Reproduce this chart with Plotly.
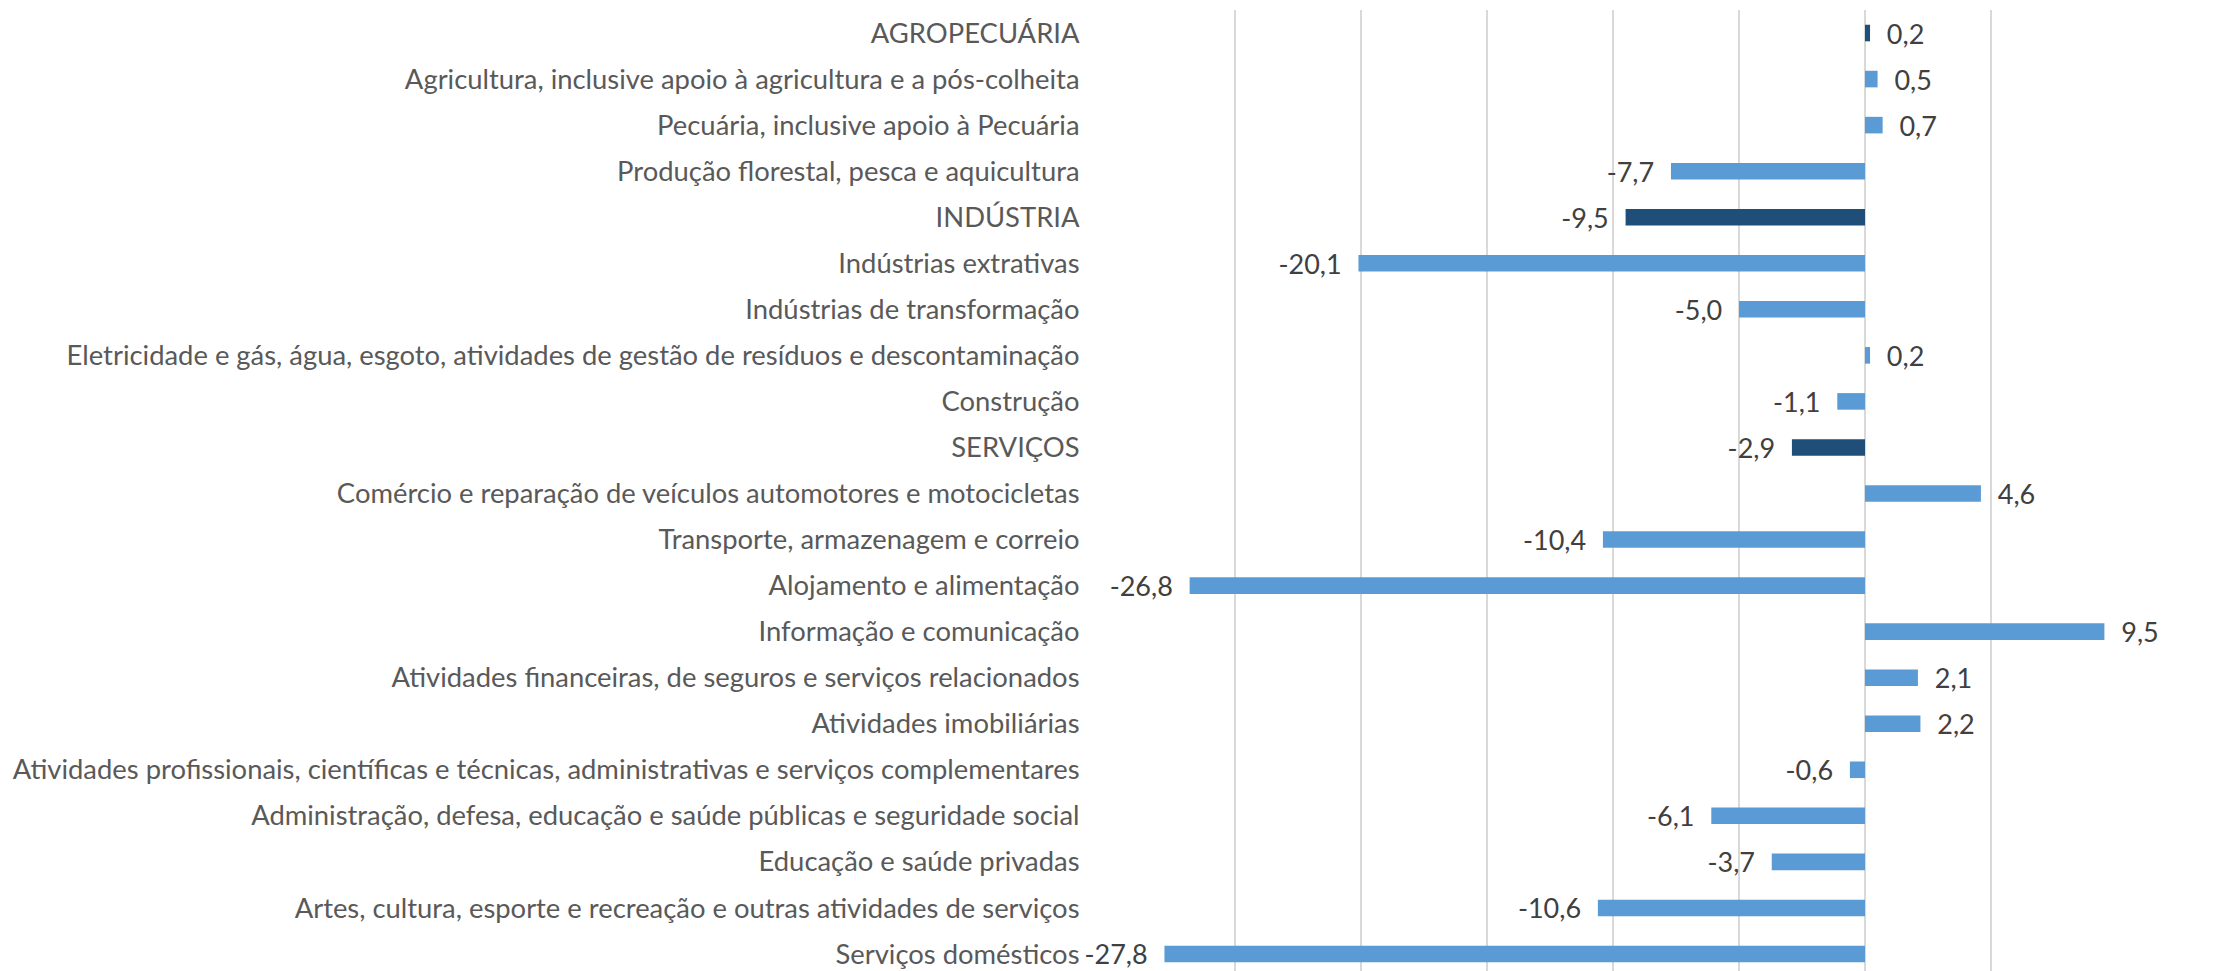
import plotly.graph_objects as go

categories = [
    "AGROPECUÁRIA",
    "Agricultura, inclusive apoio à agricultura e a pós-colheita",
    "Pecuária, inclusive apoio à Pecuária",
    "Produção florestal, pesca e aquicultura",
    "INDÚSTRIA",
    "Indústrias extrativas",
    "Indústrias de transformação",
    "Eletricidade e gás, água, esgoto, atividades de gestão de resíduos e descontaminação",
    "Construção",
    "SERVIÇOS",
    "Comércio e reparação de veículos automotores e motocicletas",
    "Transporte, armazenagem e correio",
    "Alojamento e alimentação",
    "Informação e comunicação",
    "Atividades financeiras, de seguros e serviços relacionados",
    "Atividades imobiliárias",
    "Atividades profissionais, científicas e técnicas, administrativas e serviços complementares",
    "Administração, defesa, educação e saúde públicas e seguridade social",
    "Educação e saúde privadas",
    "Artes, cultura, esporte e recreação e outras atividades de serviços",
    "Serviços domésticos",
]
values = [0.2, 0.5, 0.7, -7.7, -9.5, -20.1, -5.0, 0.2, -1.1, -2.9, 4.6,
          -10.4, -26.8, 9.5, 2.1, 2.2, -0.6, -6.1, -3.7, -10.6, -27.8]
sectors = {"AGROPECUÁRIA", "INDÚSTRIA", "SERVIÇOS"}

light, dark = "#5B9BD5", "#1F4E79"
colors = [dark if c in sectors else light for c in categories]

# Excel-style labels: comma decimal, a bit of padding from the bar end
pad = "\u00a0\u00a0"
labels = []
for v in values:
    s = f"{v:.1f}".replace(".", ",")
    labels.append(s + pad if v < 0 else pad + s)

fig = go.Figure(go.Bar(
    x=values, y=categories, orientation="h",
    marker=dict(color=colors, line=dict(width=0)),
    text=labels, textposition="outside", cliponaxis=False,
    constraintext="none",
    textfont=dict(family="Lato", size=27, color="#404040"),
))

# page body has an 8px margin, so the figure is 8px smaller
fig.update_layout(
    width=2224, height=963,
    margin=dict(l=1101, r=115, t=2, b=0),
    plot_bgcolor="white", paper_bgcolor="white",
    bargap=0.64, showlegend=False,
    font=dict(family="Lato", size=27.4, color="#595959"),
    xaxis=dict(range=[-30, 10], dtick=5, showticklabels=False,
               showgrid=True, gridcolor="#D9D9D9", gridwidth=1.5,
               zeroline=True, zerolinecolor="#D9D9D9", zerolinewidth=1.5),
    yaxis=dict(range=[20.37, -0.5], showgrid=False, zeroline=False,
               ticks="outside", ticklen=23, tickcolor="rgba(0,0,0,0)"),
)

fig.write_html("out.html")
